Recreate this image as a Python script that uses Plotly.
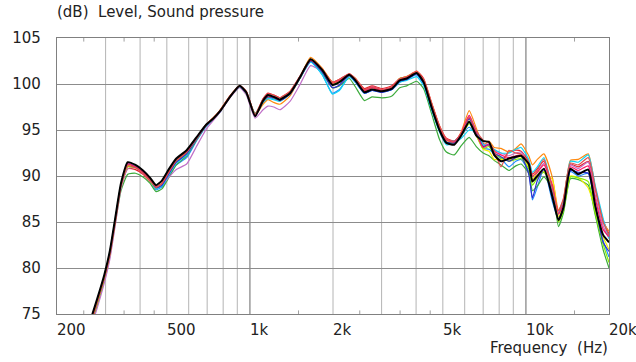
import math
import plotly.graph_objects as go

# ---------------- data ----------------
freq_hz = [250, 262, 280, 297, 311, 325, 341, 361, 385, 410,
           435, 457, 480, 510, 541, 590, 640, 695, 740, 782,
           847, 918, 970, 1044, 1116, 1163, 1220, 1283, 1397, 1516,
           1660, 1830, 1990, 2110, 2290, 2410, 2600, 2770, 3010, 3270,
           3490, 3700, 4020, 4260, 4550, 4860, 5150, 5500, 5830, 6230,
           6610, 7000, 7350, 7670, 8120, 8680, 9190, 9600, 10240, 10560,
           11000, 11620, 12480, 13120, 13680, 14490, 15480, 16820, 17820, 19040,
           20000]

spl_red = [71.8, 73.5, 76.2, 78.9, 81.4, 85.0, 88.7, 90.8, 90.7, 90.2,
           89.4, 88.8, 89.2, 90.5, 91.6, 92.5, 94.0, 95.5, 96.3, 97.2,
           98.7, 99.8, 99.2, 96.7, 98.4, 99.0, 98.8, 98.5, 99.2, 100.8,
           102.6, 101.6, 100.2, 100.5, 101.1, 100.6, 99.5, 99.8, 99.5, 99.8,
           100.6, 100.8, 101.4, 100.6, 98.0, 95.5, 94.1, 93.8, 94.6, 96.3,
           94.8, 93.5, 93.3, 92.3, 91.6, 92.6, 92.8, 92.7, 91.6, 90.2,
           90.8, 91.6, 88.3, 86.0, 87.4, 91.3, 91.0, 91.6, 88.6, 85.2,
           83.7]

spl_blue = [72.1, 73.7, 76.5, 79.1, 81.7, 85.2, 89.0, 91.2, 91.0, 90.4,
            89.5, 88.5, 88.8, 90.0, 91.2, 92.0, 93.8, 95.4, 96.2, 97.0,
            98.6, 99.7, 99.0, 96.6, 98.0, 98.5, 98.4, 98.2, 98.9, 100.6,
            102.4, 101.0, 99.0, 99.4, 100.8, 100.2, 99.0, 99.3, 99.1, 99.4,
            100.2, 100.5, 101.0, 100.0, 97.3, 95.0, 93.9, 93.8, 94.5, 95.3,
            94.4, 93.0, 92.9, 92.4, 91.9, 91.0, 91.6, 91.8, 90.5, 87.4,
            88.8, 90.8, 87.2, 85.3, 86.6, 90.5, 90.0, 90.3, 86.8, 83.0,
            81.2]

spl_green = [71.8, 73.3, 76.0, 78.7, 81.3, 84.8, 88.4, 90.2, 90.3, 89.9,
             89.2, 88.3, 88.6, 89.9, 91.2, 92.2, 93.9, 95.5, 96.3, 97.2,
             98.6, 99.7, 99.0, 96.8, 98.1, 98.6, 98.5, 98.3, 99.0, 100.6,
             102.5, 101.2, 99.6, 99.8, 100.6, 99.7, 98.2, 98.6, 98.5, 98.7,
             99.6, 99.8, 100.3, 99.5, 96.8, 94.0, 92.6, 92.3, 93.3, 94.2,
             93.2, 92.5, 92.2, 91.7, 91.2, 90.6, 91.1, 91.3, 90.3, 88.4,
             88.9, 89.9, 88.5, 84.5, 86.0, 89.7, 89.6, 89.0, 85.8, 82.0,
             80.0]

spl_orange = [72.1, 73.7, 76.5, 79.1, 81.7, 85.2, 89.0, 91.1, 91.0, 90.4,
              89.6, 88.7, 89.0, 90.3, 91.5, 92.4, 94.0, 95.6, 96.4, 97.2,
              98.7, 99.8, 99.1, 96.6, 97.8, 98.3, 98.0, 97.8, 98.7, 100.7,
              102.9, 101.7, 100.2, 100.4, 101.0, 100.5, 99.3, 99.6, 99.3, 99.6,
              100.5, 100.7, 101.3, 100.4, 97.9, 95.4, 94.0, 93.6, 94.8, 97.1,
              95.2, 93.3, 93.8, 93.1, 93.0, 92.6, 93.0, 93.5, 92.2, 91.2,
              91.8, 92.4, 89.8, 86.3, 87.4, 91.7, 91.8, 92.4, 88.8, 85.0,
              84.0]

spl_orchid = [71.4, 73.0, 75.7, 78.4, 81.0, 84.6, 88.6, 90.8, 90.9, 90.3,
              89.6, 88.9, 89.0, 89.9, 90.7, 91.3, 93.2, 95.1, 96.1, 97.0,
              98.5, 99.6, 98.8, 96.3, 97.2, 97.6, 97.5, 97.2, 98.1, 99.9,
              102.0, 101.3, 100.0, 100.4, 101.0, 100.5, 99.3, 99.7, 99.4, 99.6,
              100.4, 100.6, 101.3, 100.4, 97.8, 95.3, 94.0, 93.7, 94.6, 96.6,
              94.9, 93.4, 93.5, 92.8, 92.5, 92.2, 92.5, 92.6, 91.3, 89.6,
              90.4, 91.4, 88.0, 85.8, 87.0, 91.2, 90.8, 91.5, 88.0, 84.6,
              83.2]

spl_cyan = [72.2, 73.8, 76.6, 79.2, 81.8, 85.3, 89.1, 91.3, 91.1, 90.5,
            89.6, 88.6, 88.9, 90.2, 91.4, 92.3, 94.0, 95.5, 96.3, 97.1,
            98.6, 99.7, 99.0, 96.7, 98.0, 98.4, 98.3, 98.1, 98.9, 100.6,
            102.4, 101.0, 98.9, 99.3, 100.8, 100.2, 99.0, 99.3, 99.2, 99.4,
            100.2, 100.4, 100.8, 99.8, 97.2, 94.8, 93.4, 93.6, 94.1, 95.0,
            94.8, 93.4, 93.3, 92.9, 92.5, 92.5, 92.9, 93.1, 91.8, 90.4,
            91.0, 92.0, 88.6, 86.0, 87.2, 91.6, 91.5, 92.3, 89.0, 85.4,
            83.2]

spl_yellow = [72.0, 73.6, 76.4, 79.0, 81.6, 85.2, 89.0, 91.2, 91.0, 90.4,
              89.5, 88.7, 89.1, 90.4, 91.6, 92.6, 94.1, 95.6, 96.3, 97.1,
              98.6, 99.8, 99.0, 96.6, 98.1, 98.6, 98.5, 98.2, 99.0, 100.7,
              102.7, 101.5, 100.1, 100.3, 101.0, 100.6, 99.2, 99.4, 99.3, 99.5,
              100.6, 100.8, 101.3, 100.4, 97.7, 95.2, 93.9, 93.6, 94.5, 96.0,
              94.4, 92.9, 92.7, 91.8, 91.8, 91.7, 92.0, 92.1, 91.0, 89.6,
              90.4, 90.5, 89.6, 85.6, 86.6, 90.0, 89.8, 88.7, 86.4, 83.4,
              82.0]

spl_lime = [71.9, 73.5, 76.2, 78.9, 81.5, 85.0, 88.9, 91.0, 90.9, 90.4,
            89.6, 88.8, 89.2, 90.5, 91.6, 92.5, 94.0, 95.5, 96.3, 97.1,
            98.6, 99.7, 99.0, 96.6, 98.2, 98.7, 98.6, 98.3, 99.0, 100.6,
            102.6, 101.4, 100.0, 100.2, 100.9, 100.4, 99.1, 99.4, 99.2, 99.5,
            100.6, 100.7, 101.2, 100.2, 97.5, 95.0, 93.7, 93.6, 94.4, 95.7,
            94.5, 93.0, 93.2, 92.4, 92.0, 91.6, 91.8, 91.9, 90.8, 89.0,
            89.8, 90.4, 88.9, 85.0, 86.2, 89.9, 89.8, 89.4, 86.0, 82.6,
            80.6]

spl_navy = [72.1, 73.7, 76.5, 79.1, 81.7, 85.2, 89.0, 91.3, 91.0, 90.4,
            89.6, 88.7, 89.0, 90.3, 91.5, 92.4, 94.0, 95.5, 96.3, 97.1,
            98.6, 99.7, 99.0, 96.5, 98.1, 98.6, 98.5, 98.2, 98.9, 100.6,
            102.5, 101.3, 99.6, 99.9, 100.9, 100.3, 99.0, 99.3, 99.1, 99.4,
            100.3, 100.5, 101.1, 100.1, 97.4, 95.0, 93.7, 93.6, 94.6, 96.2,
            94.7, 93.2, 93.4, 92.5, 92.1, 91.6, 92.0, 92.2, 90.2, 87.6,
            89.5, 90.7, 88.0, 85.3, 86.5, 90.6, 90.4, 90.3, 86.8, 82.8,
            81.8]

spl_crimson = [72.0, 73.6, 76.4, 79.0, 81.6, 85.1, 89.0, 91.3, 91.0, 90.4,
               89.6, 88.8, 89.2, 90.5, 91.7, 92.6, 94.1, 95.6, 96.3, 97.1,
               98.6, 99.8, 99.1, 96.6, 98.2, 98.7, 98.6, 98.3, 99.0, 100.7,
               102.6, 101.5, 100.1, 100.4, 101.0, 100.5, 99.3, 99.6, 99.3, 99.6,
               100.5, 100.7, 101.3, 100.3, 97.7, 95.3, 93.9, 93.7, 94.7, 96.6,
               94.6, 93.1, 93.4, 92.7, 92.3, 92.0, 92.2, 92.3, 91.4, 90.0,
               90.4, 91.2, 89.0, 85.9, 87.0, 91.0, 90.6, 91.1, 87.6, 84.2,
               83.4]

spl_salmon = [71.9, 73.5, 76.3, 79.0, 81.5, 85.0, 88.9, 91.1, 90.9, 90.3,
              89.5, 88.8, 89.2, 90.5, 91.7, 92.6, 94.1, 95.6, 96.4, 97.2,
              98.7, 99.8, 99.2, 96.7, 98.4, 98.9, 98.8, 98.5, 99.2, 100.8,
              102.7, 101.6, 100.2, 100.5, 101.1, 100.6, 99.4, 99.7, 99.4, 99.7,
              100.6, 100.8, 101.3, 100.5, 97.9, 95.4, 94.0, 93.8, 94.6, 96.4,
              94.9, 93.9, 93.6, 92.8, 91.0, 92.8, 92.5, 92.4, 91.5, 90.0,
              90.6, 91.8, 88.6, 86.2, 87.6, 91.4, 91.2, 92.0, 88.8, 85.0,
              83.6]

spl_black = [72.4, 74.0, 76.7, 79.3, 81.9, 85.4, 89.2, 91.5, 91.2, 90.6,
             89.8, 89.0, 89.5, 90.8, 91.9, 92.8, 94.2, 95.6, 96.3, 97.1,
             98.6, 99.8, 99.1, 96.5, 98.2, 98.8, 98.6, 98.3, 99.0, 100.7,
             102.7, 101.5, 99.9, 100.2, 101.0, 100.4, 99.1, 99.4, 99.2, 99.5,
             100.4, 100.6, 101.2, 100.2, 97.5, 95.0, 93.6, 93.4, 94.4, 95.9,
             94.4, 93.8, 93.7, 92.3, 91.6, 91.9, 92.1, 92.2, 91.3, 89.4,
             90.0, 90.8, 87.7, 85.2, 86.6, 90.8, 90.2, 90.7, 86.8, 83.6,
             82.8]

series = [
    ("Red", spl_red, "#e8202a", 1.2),
    ("Blue", spl_blue, "#1e8cff", 1.2),
    ("Green", spl_green, "#3cab3c", 1.2),
    ("Orange", spl_orange, "#ff8a10", 1.2),
    ("Orchid", spl_orchid, "#c070c8", 1.2),
    ("Cyan", spl_cyan, "#10d4f4", 1.2),
    ("Yellow", spl_yellow, "#f0ee00", 1.2),
    ("Lime", spl_lime, "#88f000", 1.2),
    ("Navy", spl_navy, "#3030d0", 1.2),
    ("Crimson", spl_crimson, "#ff1868", 1.2),
    ("Salmon", spl_salmon, "#e05050", 1.2),
    ("Black", spl_black, "#000000", 2.0),
]

grid_freqs = [300, 400, 500, 600, 700, 800, 900,
              2000, 3000, 4000, 5000, 6000, 7000, 8000, 9000]
decade_freqs = [1000, 10000]
minor_freqs = [250, 350, 450, 1500, 2500, 3500, 4500, 15000]
x_tick_vals = [200, 500, 1000, 2000, 5000, 10000, 20000]
x_tick_text = ["200", "500", "1k", "2k", "5k", "10k", "20k"]
y_tick_vals = [75, 80, 85, 90, 95, 100, 105]

# ---------------- figure ----------------
FONT = "DejaVu Sans, Verdana, sans-serif"
FS = 15
fig = go.Figure()

for name, vals, color, width in series:
    fig.add_trace(go.Scatter(x=freq_hz, y=vals, mode="lines", name=name,
                             line=dict(color=color, width=width, shape="spline", smoothing=0.5),
                             showlegend=False, hoverinfo="skip"))

shapes = []
for f in grid_freqs:
    shapes.append(dict(type="line", xref="x", yref="paper", x0=f, x1=f, y0=0, y1=1,
                       line=dict(color="#b4b4b4", width=1), layer="below"))
for f in decade_freqs:
    shapes.append(dict(type="line", xref="x", yref="paper", x0=f, x1=f, y0=0, y1=1,
                       line=dict(color="#808080", width=1.2), layer="below"))
for f in minor_freqs:
    for (a, b) in [(0, 0.013), (0.987, 1)]:
        shapes.append(dict(type="line", xref="x", yref="paper", x0=f, x1=f, y0=a, y1=b,
                           line=dict(color="#a0a0a0", width=1), layer="below"))

annotations = [
    dict(text="(dB)\u00a0\u00a0Level, Sound pressure", xref="paper", yref="paper",
         x=0, y=1, xanchor="left", yanchor="bottom", yshift=15, xshift=-2,
         showarrow=False, font=dict(family=FONT, size=FS, color="#222")),
    dict(text="Frequency\u00a0\u00a0(Hz)", xref="paper", yref="paper",
         x=1, y=0, xanchor="right", yanchor="top", yshift=-23, xshift=1,
         showarrow=False, font=dict(family=FONT, size=FS, color="#222")),
]
for v, t in zip(x_tick_vals, x_tick_text):
    annotations.append(dict(text=t, xref="x", yref="paper", x=math.log10(v), y=0,
                            xanchor="left", yanchor="top", yshift=-5, xshift=-2,
                            showarrow=False, font=dict(family=FONT, size=FS, color="#222")))

fig.update_layout(
    width=636, height=362,
    margin=dict(l=52, r=27, t=38, b=48, pad=0),
    paper_bgcolor="white", plot_bgcolor="white",
    font=dict(family=FONT, size=FS, color="#222"),
    shapes=shapes, annotations=annotations,
    xaxis=dict(type="log", range=[math.log10(200), math.log10(20000)],
               showgrid=False, showticklabels=False, ticks="", zeroline=False,
               showline=True, mirror=True, linecolor="#808080", linewidth=1.2),
    yaxis=dict(range=[75, 105], tickvals=y_tick_vals, showgrid=True,
               gridcolor="#8c8c8c", gridwidth=1, zeroline=False, ticks="",
               ticklabelstandoff=12,
               showline=True, mirror=True, linecolor="#808080", linewidth=1.2,
               tickfont=dict(family=FONT, size=FS, color="#222")),
)

fig.write_html("out.html")
